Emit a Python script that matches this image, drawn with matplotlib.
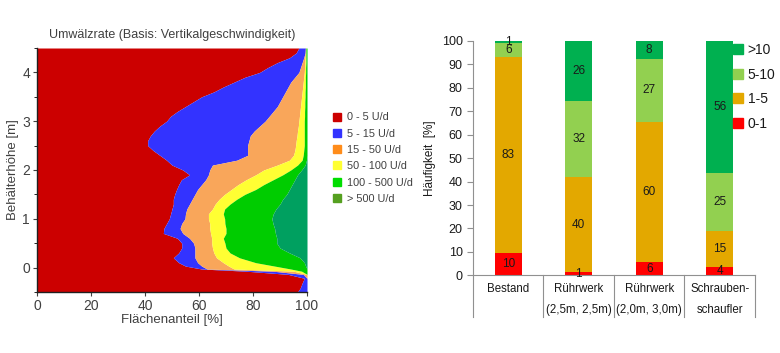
import matplotlib
matplotlib.use('Agg')
import matplotlib.pyplot as plt
import numpy as np
from matplotlib.lines import Line2D
from matplotlib.ticker import MultipleLocator

plt.rcParams['font.family'] = ['Liberation Sans', 'DejaVu Sans']

# ---------------- left chart data (cumulative area shares in % per height) ----------------
hoehe = [-0.5, -0.42, -0.32, -0.22, -0.14, -0.075, -0.03, 0.03, 0.1, 0.2, 0.3, 0.4, 0.5, 0.6,
         0.7, 0.8, 0.9, 1.0, 1.1, 1.2, 1.3, 1.4, 1.5, 1.6, 1.7, 1.8, 1.9, 2.0, 2.1, 2.2, 2.3,
         2.4, 2.5, 2.6, 2.7, 2.8, 2.9, 3.0, 3.1, 3.2, 3.3, 3.4, 3.5, 3.6, 3.7, 3.8, 3.9, 4.0,
         4.1, 4.2, 4.3, 4.4, 4.5]
grenze_5 = [96.5, 97.5, 98.2, 99.0, 93, 77.5, 61, 55, 52.5, 50.5, 52.5, 53.6, 53.6, 52,
            46.8, 47, 48, 49, 49.5, 50, 50.5, 50.5, 51, 51.7, 52.5, 53.5, 56.5, 54, 50, 48, 45.5,
            43, 41, 41, 42, 43.5, 45.5, 48, 49.5, 52, 55, 58, 61, 65.5, 69, 73, 77, 82.5,
            85.5, 89, 93.5, 96, 97]
grenze_15 = [100, 100, 100, 100, 98.6, 87.5, 63, 61, 59.5, 58.5, 58.5, 58.5, 58, 56.5,
             54, 53, 53.6, 54.8, 55, 55.5, 56.5, 57.5, 58.5, 59.5, 61, 62.5, 63.5, 64, 65, 74, 78,
             78, 78, 78.5, 79, 80.5, 82.5, 84.5, 86, 87.5, 89, 90, 91, 92, 93, 94, 95.5, 97,
             97.6, 98.2, 98.8, 99.3, 99.4]
grenze_50 = [100, 100, 100, 100, 100, 95, 73, 71, 69, 66.5, 65.5, 65, 64.7, 64.7,
             64.3, 64, 64, 63.5, 63.5, 65, 66, 67.5, 69.5, 72, 74.5, 77.5, 81, 84, 89, 93.5, 95,
             95.5, 95.8, 96, 96.3, 96.5, 96.8, 97, 97.2, 97.4, 97.6, 97.8, 98, 98.2, 98.4, 98.6,
             98.8, 99, 99.1, 99.2, 99.3, 99.4, 99.5]
grenze_100 = [100, 100, 100, 100, 100, 98, 94, 88, 81, 75, 71.5, 70, 69.6, 69,
              70, 70, 69.6, 69.5, 69, 69.5, 71.5, 74, 77, 81, 84, 87.5, 91, 94, 96.5, 98.2, 98.6,
              98.8, 99, 99, 99, 99, 99, 99, 99.1, 99.1, 99.2, 99.2, 99.3, 99.3, 99.4, 99.4,
              99.4, 99.5, 99.5, 99.6, 99.6, 99.6, 99.6]
grenze_500 = [100, 100, 100, 100, 100, 100, 100, 99.5, 99, 97.4, 93.5, 90, 88.8, 88.8,
              88.3, 88, 87.4, 87, 87.5, 88.5, 90, 91, 92.5, 93.5, 94.5, 95.5, 96.5, 98, 99.3, 99.8,
              100, 100, 100, 100, 100, 100, 100, 100, 100, 100, 100, 100, 100, 100, 100, 100,
              100, 100, 100, 100, 100, 100, 100]
klassen_links = ['0 - 5 U/d', '5 - 15 U/d', '15 - 50 U/d', '50 - 100 U/d', '100 - 500 U/d', '> 500 U/d']

# ---------------- right chart data ----------------
kategorien = ['Bestand', 'Rührwerk\n(2,5m, 2,5m)', 'Rührwerk\n(2,0m, 3,0m)', 'Schrauben-\nschaufler']
anteil_0_1 = [9.6, 1.4, 5.6, 3.6]
anteil_1_5 = [83.4, 40.4, 60.0, 15.4]
anteil_5_10 = [6.0, 32.4, 26.8, 24.6]
anteil_gt10 = [1.0, 25.8, 7.6, 56.4]
klassen_rechts = ['0-1', '1-5', '5-10', '>10']

fig = plt.figure(figsize=(7.8, 3.53), dpi=100)

# ================= left chart =================
ax1 = fig.add_axes([0.0474, 0.173, 0.3462, 0.691])
plot_cols = ['#cc0000', '#3333ff', '#f9a65a', '#ffff33', '#00cc00', '#00a060']
leg_cols = ['#cc0000', '#3333ff', '#ff8c1a', '#ffff33', '#00dd00', '#55a020']
h = np.array(hoehe)
bounds = [np.zeros(len(h)), np.array(grenze_5), np.array(grenze_15), np.array(grenze_50),
          np.array(grenze_100), np.array(grenze_500), np.full(len(h), 100.0)]
for i in range(6):
    ax1.fill_betweenx(h, bounds[i], bounds[i + 1], color=plot_cols[i], lw=0)
ax1.set_xlim(0, 100)
ax1.set_ylim(-0.5, 4.5)
ax1.set_xticks([0, 20, 40, 60, 80, 100])
ax1.set_yticks([0, 1, 2, 3, 4])
ax1.yaxis.set_minor_locator(MultipleLocator(0.5))
for s in ['top', 'right']:
    ax1.spines[s].set_visible(False)
for s in ['left', 'bottom']:
    ax1.spines[s].set_color('#202020')
    ax1.spines[s].set_linewidth(1.0)
ax1.tick_params(labelsize=10, colors='#404040', length=3, pad=2)
ax1.tick_params(which='minor', length=2)
ax1.set_title('Umwälzrate (Basis: Vertikalgeschwindigkeit)', fontsize=9, color='#404040', pad=7)
ax1.set_xlabel('Flächenanteil [%]', fontsize=9.5, color='#404040', labelpad=1)
ax1.set_ylabel('Behälterhöhe [m]', fontsize=9.5, color='#404040', labelpad=2)

handles1 = [Line2D([], [], marker='s', ls='none', markersize=6, color=c) for c in leg_cols]
fig.legend(handles1, klassen_links, loc='upper left', bbox_to_anchor=(0.419, 0.697),
           frameon=False, fontsize=7.8, handlelength=0.8, handletextpad=0.6,
           labelspacing=0.58, borderpad=0, labelcolor='#404040')

# ================= right chart =================
ax2 = fig.add_axes([0.6064, 0.2201, 0.3615, 0.6638])
bar_cols = ['#ff0000', '#e3a800', '#92d050', '#00b050']
x = np.arange(len(kategorien))
series = [anteil_0_1, anteil_1_5, anteil_5_10, anteil_gt10]
bottom = np.zeros(len(x))
for vals, col in zip(series, bar_cols):
    vals = np.array(vals)
    ax2.bar(x, vals, 0.385, bottom=bottom, color=col, lw=0)
    for xi, b, v in zip(x, bottom, vals):
        ax2.text(xi, b + v / 2, f'{int(round(v))}', ha='center', va='center',
                 fontsize=8.5, color='#1a1a1a')
    bottom = bottom + vals
ax2.set_xlim(-0.5, len(x) - 0.5)
ax2.set_ylim(0, 100)
ax2.set_yticks(range(0, 101, 10))
ax2.set_xticks([])
for s in ['top', 'right']:
    ax2.spines[s].set_visible(False)
for s in ['left', 'bottom']:
    ax2.spines[s].set_color('#909090')
ax2.tick_params(axis='y', labelsize=9, colors='#909090', labelcolor='#1a1a1a', length=4)
for sep in np.arange(-0.5, len(x), 1.0):
    ax2.plot([sep, sep], [0, -17.8], color='#909090', lw=0.8, clip_on=False)
for xi, lab in zip(x, kategorien):
    lines = lab.split('\n')
    ax2.text(xi, -5.9, lines[0], ha='center', va='center', fontsize=8.3, color='#1a1a1a')
    if len(lines) > 1:
        ax2.text(xi, -14.8, lines[1], ha='center', va='center', fontsize=8.3, color='#1a1a1a')
ax2.set_ylabel('Häufigkeit  [%]', fontsize=8.5, color='#1a1a1a', labelpad=4)

handles2 = [Line2D([], [], marker='s', ls='none', markersize=7, color=c) for c in bar_cols[::-1]]
fig.legend(handles2, klassen_rechts[::-1], loc='upper left', bbox_to_anchor=(0.932, 0.897),
           frameon=False, fontsize=10, handlelength=0.6, handletextpad=0.4,
           labelspacing=0.75, borderpad=0, labelcolor='#1a1a1a')

fig.savefig('out.png', dpi=100)
